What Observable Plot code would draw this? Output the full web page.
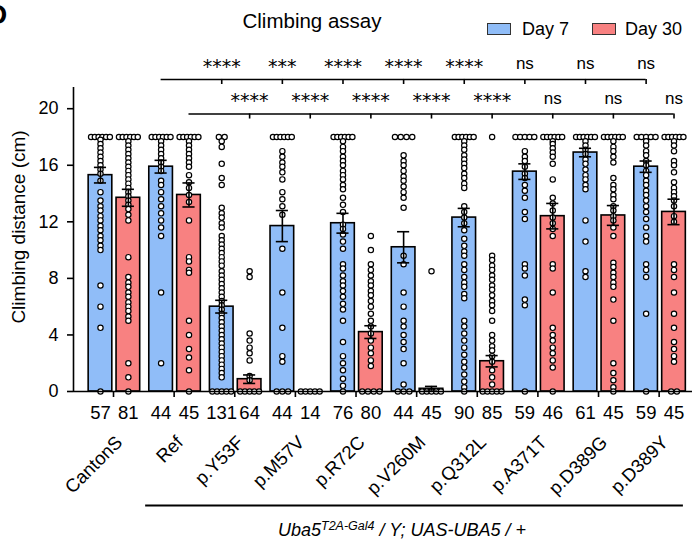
<!DOCTYPE html>
<html><head><meta charset="utf-8">
<script src="https://cdn.jsdelivr.net/npm/d3@7"></script>
<script src="https://cdn.jsdelivr.net/npm/@observablehq/plot@0.6"></script>
<style>
body{margin:0;background:#fff;}
#wrap{position:relative;width:696px;height:539px;overflow:hidden;font-family:"Liberation Sans",Arial,sans-serif;color:#000;}
#wrap svg{position:absolute;left:0;top:0;}
.ov{position:absolute;white-space:nowrap;}
.sw{position:absolute;width:22px;height:10px;border:1.3px solid #333;}
</style></head><body>
<div id="wrap">
  <div class="ov" style="left:-13px;top:1px;font-size:28px;line-height:28px;font-weight:bold;">D</div>
  <div class="ov" style="left:312px;top:11px;transform:translateX(-50%);font-size:20.5px;line-height:20.5px;">Climbing assay</div>
  <div class="sw" style="left:487px;top:23px;background:#90bdf8;"></div>
  <div class="ov" style="left:522px;top:20px;font-size:18px;line-height:18px;">Day 7</div>
  <div class="sw" style="left:592px;top:23px;background:#f88181;"></div>
  <div class="ov" style="left:625px;top:20px;font-size:18px;line-height:18px;">Day 30</div>
  <div class="ov" style="left:278px;top:521px;font-size:18px;line-height:18px;font-style:italic;">Uba5<span style="font-size:12.5px;position:relative;top:-6px;">T2A-Gal4</span> / Y; UAS-UBA5 / +</div>
</div>
<script>
const genotypes = ["CantonS","Ref","p.Y53F","p.M57V","p.R72C","p.V260M","p.Q312L","p.A371T","p.D389G","p.D389Y"];
const days = ["Day 7","Day 30"];
const dayColors = ["#90bdf8","#f88181"];
const day7Mean = [15.3,15.9,6.0,11.7,11.9,10.2,12.3,15.55,16.9,15.9];
const day30Mean = [13.7,13.9,0.87,0,4.2,0.19,2.14,12.4,12.45,12.7];
const day7Sem = [0.55,0.45,0.45,1.1,0.7,1.1,0.65,0.55,0.3,0.4];
const day30Sem = [0.6,0.85,0.3,0,0.45,0.17,0.4,0.9,0.7,0.9];
const day7N = [57,44,131,44,76,44,90,59,61,59];
const day30N = [81,45,64,14,80,45,85,46,45,45];
const yTicks = [0,4,8,12,16,20];
const sigDay7 = ["****","***","****","****","****","ns","ns","ns"];
const sigDay30 = ["****","****","****","****","****","ns","ns","ns"];

const day7Points = [
 [18,18,18,18,18,18,17.8,17.5,17.2,16.9,16.6,16.3,16.0,15.7,15.4,14.9,14.1,13.5,13.1,12.8,12.4,12.1,11.7,11.4,11.0,10.7,10.3,10.0,7.5,6.0,4.5,0],
 [18,18,18,18,18,18,17.7,17.4,17.1,16.8,16.5,16.2,15.9,15.6,14.9,14.6,14.1,13.6,13.1,12.6,12.1,11.6,11.0,7.0,2.0],
 [18,18,17.7,17.3,16.1,15.1,14.6,13.0,12.6,12.3,11.9,11.6,11.0,10.7,10.4,10.1,9.8,9.5,9.2,8.9,8.5,8.2,7.9,7.6,7.3,7.0,6.7,6.4,6.1,5.8,5.5,5.2,4.9,4.6,4.3,4.0,3.7,3.4,3.1,2.8,2.5,2.2,1.9,1.6,1.3,1.0,0,0,0,0,0],
 [18,18,18,18,18,18,17.0,16.6,16.2,15.9,15.5,15.0,14.1,13.6,13.1,12.5,10.1,7.0,4.5,2.5,2.1,0,0,0],
 [18,18,18,18,18,18,17.7,17.3,17.0,16.6,16.3,16.0,15.6,15.3,15.0,14.6,14.3,13.7,13.2,12.7,11.8,11.5,11.1,10.6,10.1,9.0,8.7,8.2,7.8,7.5,7.1,6.7,6.2,5.8,5.0,3.5,2.5,2.0,1.5,0.9,0.4,0],
 [18,18,18,18,16.7,16.3,16.0,15.6,15.2,14.9,14.5,14.1,13.7,13.0,9.6,9.0,7.0,6.0,5.0,4.6,4.0,3.5,3.0,2.0,0.5,0,0,0],
 [18,18,18,18,18,18,17.7,17.4,17.1,16.7,16.4,16.1,15.8,15.4,15.1,14.7,14.4,13.1,12.7,12.3,11.9,11.4,10.8,10.3,9.9,9.6,9.0,8.6,8.1,7.7,7.4,6.9,6.6,5.0,4.6,4.1,3.6,3.1,2.6,2.1,1.7,1.2,0.7,0.3,0],
 [18,18,18,18,18,17.0,16.6,16.3,15.9,15.4,15.1,14.6,14.2,13.7,12.7,12.2,9.0,8.7,8.2,6.5,6.1,0],
 [18,18,18,18,18,18,17.7,17.4,17.1,16.8,16.4,16.1,15.7,15.3,15.0,14.6,14.3,12.1,10.6,8.5,8.1],
 [18,18,18,18,18,17.7,17.4,17.0,16.7,16.3,16.0,15.6,15.3,14.9,14.6,14.2,13.9,13.5,13.1,12.7,12.2,11.6,11.0,10.6,9.0,8.6,8.1,5.5,0]
];
const day30Points = [
 [18,18,18,18,18,18,17.7,17.4,17.1,16.8,16.5,16.2,15.9,15.6,15.3,15.0,14.7,14.4,14.1,13.8,13.5,13.2,12.9,12.5,12.1,9.5,8.1,7.7,7.4,7.0,6.7,6.3,6.0,5.7,5.3,5.0,2.0,1.0,0],
 [18,18,18,18,18,18,17.7,17.4,17.1,16.8,16.5,16.2,15.9,15.3,14.8,14.4,13.9,13.4,12.1,9.5,9.2,8.6,8.4,5.0,4.0,3.0,2.4,1.5,0],
 [8.5,8.1,4.1,3.6,3.1,2.7,2.2,1.1,0.8,0,0,0,0,0],
 [0,0,0,0,0],
 [11.0,10.0,9.0,8.6,8.2,7.8,7.5,7.1,6.8,6.4,6.0,5.5,5.0,4.6,4.1,3.6,3.1,2.7,2.2,1.8,0,0,0,0],
 [8.5,0,0,0,0,0],
 [18,9.6,9.3,8.9,8.6,8.2,7.9,7.5,7.2,6.8,6.4,6.1,5.7,5.0,4.0,3.6,3.2,2.9,2.5,2.1,1.5,1.0,0.5,0,0,0,0,0],
 [18,18,18,18,18,18,17.7,17.5,17.2,16.9,16.6,16.1,15.0,13.7,13.3,12.8,12.3,11.9,11.5,11.0,9.0,8.7,7.0,4.5,4.0,3.6,3.1,2.7,2.2,1.7,0],
 [18,18,18,18,18,18,17.7,17.3,17.0,16.6,16.2,15.1,14.6,14.3,13.9,13.6,13.1,12.8,12.4,12.1,11.6,11.0,9.1,8.8,8.4,8.1,7.7,7.4,6.5,5.0,2.0,1.3,0.8,0.3,0],
 [18,18,18,18,18,18,17.7,17.4,17.0,16.3,16.0,15.5,14.8,14.4,14.1,13.8,13.5,13.1,12.4,12.0,9.0,8.6,8.1,7.0,5.5,4.5,3.5,3.0,2.5,2.1,0,0]
];

// layout (in group units)
const xDomain = [-0.66, 9.55];
const dayOffset = {"Day 7": -0.215, "Day 30": 0.245};
const halfWidth = 0.195;

const bars = genotypes.flatMap((g, i) => [
  {g, i, day: days[0], mean: day7Mean[i], sem: day7Sem[i], n: day7N[i], pts: day7Points[i]},
  {g, i, day: days[1], mean: day30Mean[i], sem: day30Sem[i], n: day30N[i], pts: day30Points[i]}
]);
bars.forEach(b => b.x = b.i + dayOffset[b.day]);

function swarm(values, cx) {
  const out = [];
  for (const [v, arr] of d3.group(values, v => v)) {
    const m = arr.length;
    const step = m > 1 ? Math.min(0.095, 0.31 / (m - 1)) : 0;
    arr.forEach((_, k) => out.push({x: cx + (k - (m - 1) / 2) * step, y: v}));
  }
  return out;
}
const dots = bars.flatMap(b => swarm(b.pts, b.x));
const errs = bars.filter(b => b.sem > 0);
const caps = errs.flatMap(b => [{x: b.x, y: b.mean - b.sem}, {x: b.x, y: b.mean + b.sem}]);

const sigRows = [
  {labels: sigDay7, day: days[0], level: 22.07},
  {labels: sigDay30, day: days[1], level: 19.63}
];
const sigTicks = sigRows.flatMap(r => r.labels.map((lab, k) => ({
  x: k + 2 + dayOffset[r.day], level: r.level, lab, star: lab.includes("*")
})));

const chart = Plot.plot({
  width: 696, height: 539,
  marginLeft: 73, marginRight: 4, marginTop: 87, marginBottom: 148,
  x: {type: "linear", domain: xDomain},
  y: {domain: [0, 21.5]},
  color: {domain: days, range: dayColors},
  style: {fontFamily: "'Liberation Sans', Arial, sans-serif", fontSize: "18px", color: "black", background: "transparent", overflow: "visible"},
  marks: [
    Plot.rect(bars, {x1: d => d.x - halfWidth, x2: d => d.x + halfWidth, y1: 0, y2: "mean", fill: "day", stroke: "black", strokeWidth: 1.6}),
    Plot.dot(dots, {x: "x", y: "y", r: 2.65, fill: "white", stroke: "black", strokeWidth: 1.2}),
    Plot.ruleX(errs, {x: "x", y1: d => d.mean - d.sem, y2: d => d.mean + d.sem, strokeWidth: 1.6}),
    Plot.ruleY(caps, {y: "y", x1: d => d.x - 0.1, x2: d => d.x + 0.1, strokeWidth: 1.6}),
    Plot.ruleX([xDomain[0]], {strokeWidth: 1.6}),
    Plot.ruleY([0], {strokeWidth: 1.6}),
    Plot.axisY({ticks: yTicks, tickSize: 6, tickPadding: 9, strokeWidth: 1.6, label: null, fontSize: 18}),
    Plot.axisX({ticks: d3.range(genotypes.length), tickSize: 6, tickFormat: () => "", strokeWidth: 1.6, label: null}),
    Plot.text(["Climbing distance (cm)"], {frameAnchor: "left", textAnchor: "middle", lineAnchor: "middle", rotate: -90, dx: -54.5, dy: -12.5, fontSize: 19}),
    Plot.text(bars, {x: "x", text: "n", frameAnchor: "bottom", lineAnchor: "middle", dy: 21.5, fontSize: 18.5}),
    Plot.text(genotypes, {x: (d, i) => i, text: d => d, frameAnchor: "bottom", lineAnchor: "bottom", dy: 52, dx: 10, rotate: -45, textAnchor: "end", fontSize: 18.5}),
    Plot.ruleY(sigRows, {y: "level", x1: r => 1 + dayOffset[r.day], x2: r => genotypes.length - 1 + dayOffset[r.day], strokeWidth: 1.6}),
    Plot.ruleX(sigTicks, {x: "x", y1: "level", y2: d => d.level - 0.36, strokeWidth: 1.6}),
    Plot.text(sigTicks.filter(d => d.star), {x: "x", y: "level", text: "lab", dy: -6.5, lineAnchor: "bottom", fontFamily: "DejaVu Sans", fontSize: 19}),
    Plot.text(sigTicks.filter(d => !d.star), {x: "x", y: "level", text: "lab", dy: -10, lineAnchor: "bottom", fontSize: 17}),
    Plot.ruleY([0], {x1: 0.53, x2: 9.4, dy: 114, strokeWidth: 1.8})
  ]
});
document.getElementById("wrap").prepend(chart);
</script>
</body></html>
